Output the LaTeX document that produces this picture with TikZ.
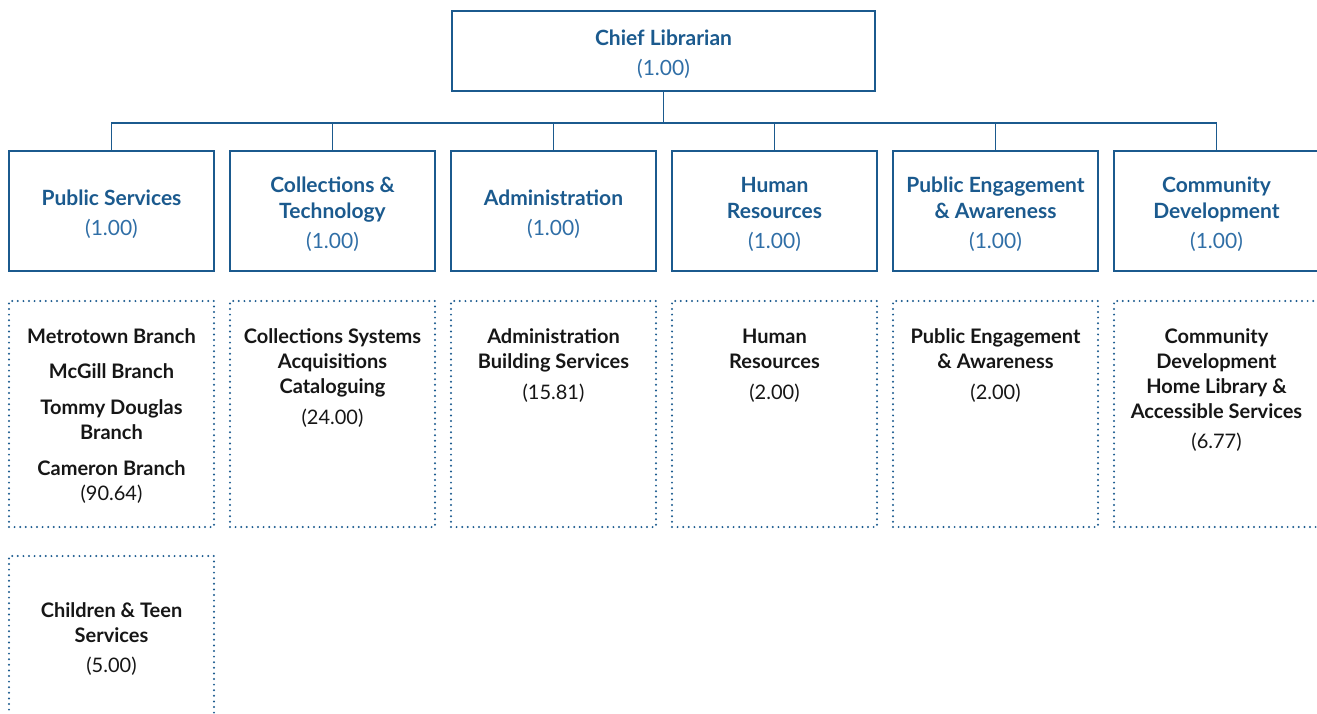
\documentclass[tikz,border=0pt]{standalone}
\usepackage{fontspec}
\setmainfont{Lato}
\definecolor{orgblue}{HTML}{1B5A8E}
\definecolor{numblue}{HTML}{2F6EA6}
\definecolor{txtblack}{HTML}{161616}
\tikzset{
  x=1pt,y=1pt,
  line/.style={draw=orgblue,line width=1.8pt},
  chiefbox/.style={line,rectangle,minimum width=423pt,minimum height=80pt,inner sep=0pt,align=center,
    font=\fontsize{21}{26}\selectfont},
  deptbox/.style={line,rectangle,minimum width=205pt,minimum height=120pt,inner sep=0pt,align=center,
    font=\fontsize{21}{26}\selectfont},
  unitbox/.style={draw=orgblue,line width=2.2pt,dash pattern=on 0pt off 5.6pt,line cap=round,
    rectangle,minimum width=205pt,minimum height=226pt,inner sep=0pt},
  unittext/.style={anchor=north,inner sep=0pt,align=center,text=txtblack,
    font=\fontsize{20}{25}\selectfont\bfseries},
}
\newcommand{\ttl}[1]{\textcolor{orgblue}{\bfseries #1}}
\newcommand{\num}[1]{\textcolor{numblue}{#1}}
\newcommand{\unum}[1]{{\mdseries #1}}
\newcommand{\dstrut}{\rule{0pt}{22.5pt}}
\newcommand{\cstrut}{\rule{0pt}{21.5pt}}
\begin{document}
\begin{tikzpicture}
\useasboundingbox (0,0) rectangle (1317,-713);
\clip (0,0) rectangle (1317,-713);
% chief
\node[chiefbox] (chief) at (663.5,-51) {\cstrut\ttl{Chief Librarian}\\[4pt]\num{(1.00)}};
\coordinate (bus) at (663.5,-123);
% departments
\node[deptbox] (d1) at (111.5,-211) {\dstrut\ttl{Public Services}\\[4pt]\num{(1.00)}};
\node[deptbox] (d2) at (332.5,-211) {\dstrut\ttl{Collections \&}\\\ttl{Technology}\\[4pt]\num{(1.00)}};
\node[deptbox] (d3) at (553.5,-211) {\dstrut\ttl{Administration}\\[4pt]\num{(1.00)}};
\node[deptbox] (d4) at (774.5,-211) {\dstrut\ttl{Human}\\\ttl{Resources}\\[4pt]\num{(1.00)}};
\node[deptbox] (d5) at (995.5,-211) {\dstrut\ttl{Public Engagement}\\\ttl{\& Awareness}\\[4pt]\num{(1.00)}};
\node[deptbox] (d6) at (1216.5,-211) {\dstrut\ttl{Community}\\\ttl{Development}\\[4pt]\num{(1.00)}};
% connectors
\draw[line] (chief.south) -- (bus);
\foreach \d in {d1,d2,d3,d4,d5,d6}{\draw[line] (\d.north) |- (bus);}
% unit boxes
\node[unitbox] (u1) at (111.5,-414) {};
\node[unitbox] (u2) at (332.5,-414) {};
\node[unitbox] (u3) at (553.5,-414) {};
\node[unitbox] (u4) at (774.5,-414) {};
\node[unitbox] (u5) at (995.5,-414) {};
\node[unitbox] (u6) at (1216.5,-414) {};
\node[unitbox] (u7) at (111.5,-669) {};
% unit texts
\node[unittext] (t1) at ([yshift=-29pt]u1.north) {Metrotown Branch\\[10pt]McGill Branch\\[11pt]Tommy Douglas\\Branch\\[11pt]Cameron Branch\\\unum{(90.64)}};
\node[unittext] (t2) at ([yshift=-29pt]u2.north) {Collections Systems\\Acquisitions\\Cataloguing\\[6pt]\unum{(24.00)}};
\node[unittext] (t3) at ([yshift=-29pt]u3.north) {Administration\\Building Services\\[6pt]\unum{(15.81)}};
\node[unittext] (t4) at ([yshift=-29pt]u4.north) {Human\\Resources\\[6pt]\unum{(2.00)}};
\node[unittext] (t5) at ([yshift=-29pt]u5.north) {Public Engagement\\\& Awareness\\[6pt]\unum{(2.00)}};
\node[unittext] (t6) at ([yshift=-29pt]u6.north) {Community\\Development\\Home Library \&\\Accessible Services\\[5pt]\unum{(6.77)}};
\node[unittext] (t7) at ([yshift=-48pt]u7.north) {Children \& Teen\\Services\\[5pt]\unum{(5.00)}};
\end{tikzpicture}
\end{document}
